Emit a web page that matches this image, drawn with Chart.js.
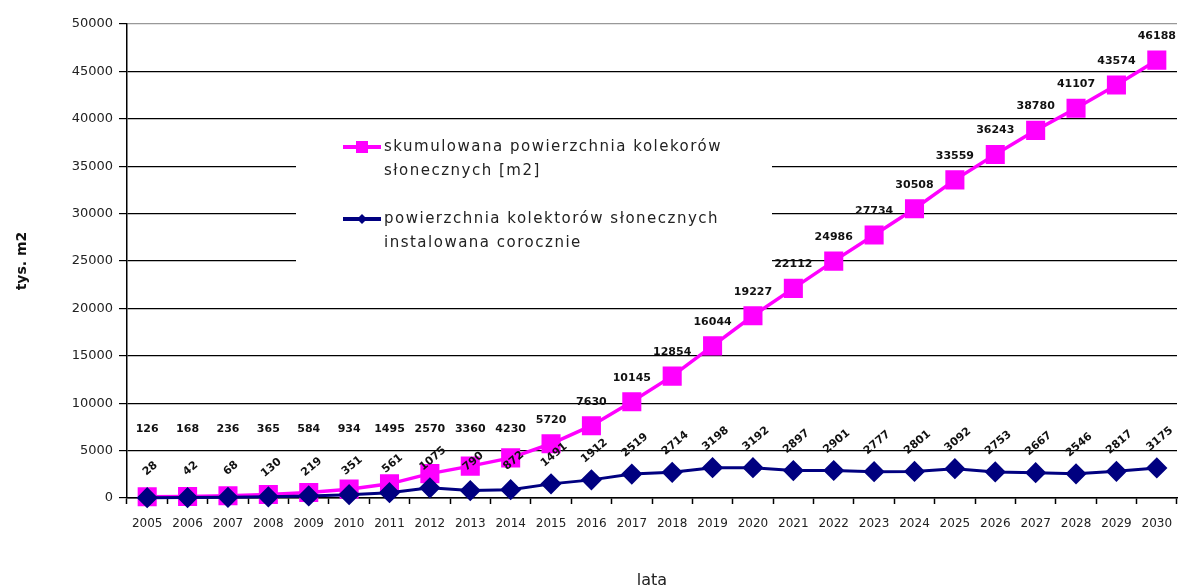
<!DOCTYPE html>
<html>
<head>
<meta charset="utf-8">
<script src="https://cdn.jsdelivr.net/npm/chart.js@4"></script>
<style>
  html, body { margin: 0; padding: 0; background: #fff; overflow: hidden; }
</style>
</head>
<body>
<canvas id="chart" width="1181" height="585"></canvas>
<script>
var years = ["2005", "2006", "2007", "2008", "2009", "2010", "2011", "2012", "2013",
  "2014", "2015", "2016", "2017", "2018", "2019", "2020", "2021", "2022", "2023",
  "2024", "2025", "2026", "2027", "2028", "2029", "2030"];

var cumulative = [126, 168, 236, 365, 584, 934, 1495, 2570, 3360, 4230, 5720, 7630,
  10145, 12854, 16044, 19227, 22112, 24986, 27734, 30508, 33559, 36243, 38780,
  41107, 43574, 46188];

var annual = [28, 42, 68, 130, 219, 351, 561, 1075, 790, 872, 1491, 1912, 2519, 2714,
  3198, 3192, 2897, 2901, 2777, 2801, 3092, 2753, 2667, 2546, 2817, 3175];

var legendLabels = [
  ["skumulowana powierzchnia kolekorów", "słonecznych [m2]"],
  ["powierzchnia kolektorów słonecznych", "instalowana corocznie"]
];

var yMax = 50000;
var yStep = 5000;

var pink = "#ff00ff";
var navy = "#000080";
var font = '"DejaVu Sans", sans-serif';

var valueLabels = {
  id: "valueLabels",
  afterDatasetsDraw: function (chart) {
    var ctx = chart.ctx;
    var yScale = chart.scales.y;
    var cumMeta = chart.getDatasetMeta(0);
    var annMeta = chart.getDatasetMeta(1);
    var floor = yScale.getPixelForValue(7300);

    ctx.save();
    ctx.font = "bold 11px " + font;
    ctx.fillStyle = "#111";
    ctx.textAlign = "center";
    ctx.textBaseline = "middle";

    cumMeta.data.forEach(function (pt, i) {
      var y = Math.min(pt.y - 24, floor);
      ctx.fillText(String(cumulative[i]), pt.x, y);
    });

    annMeta.data.forEach(function (pt, i) {
      ctx.save();
      ctx.translate(pt.x + 3, pt.y - 29);
      ctx.rotate(-40 * Math.PI / 180);
      ctx.fillText(String(annual[i]), 0, 0);
      ctx.restore();
    });
    ctx.restore();
  }
};

var legendBox = {
  id: "legendBox",
  beforeDatasetsDraw: function (chart) {
    var ctx = chart.ctx;
    var colors = [pink, navy];
    var styles = ["rect", "rectRot"];
    ctx.save();
    ctx.fillStyle = "#fff";
    ctx.fillRect(296, 126, 476, 160);

    ctx.font = "15px " + font;
    ctx.letterSpacing = "1.5px";
    ctx.textAlign = "left";
    ctx.textBaseline = "middle";

    legendLabels.forEach(function (lines, i) {
      var y = 147 + i * 72;
      ctx.strokeStyle = colors[i];
      ctx.lineWidth = 4;
      ctx.beginPath();
      ctx.moveTo(343, y);
      ctx.lineTo(381, y);
      ctx.stroke();
      ctx.fillStyle = colors[i];
      if (styles[i] === "rect") {
        ctx.fillRect(356, y - 6, 12, 12);
      } else {
        ctx.beginPath();
        ctx.moveTo(362, y - 5);
        ctx.lineTo(367, y);
        ctx.lineTo(362, y + 5);
        ctx.lineTo(357, y);
        ctx.closePath();
        ctx.fill();
      }
      ctx.fillStyle = "#222";
      lines.forEach(function (txt, j) {
        ctx.fillText(txt, 384, y + j * 24);
      });
    });
    ctx.restore();
  }
};

var ctx = document.getElementById("chart").getContext("2d");

new Chart(ctx, {
  type: "line",
  data: {
    labels: years,
    datasets: [
      {
        label: legendLabels[0].join(" "),
        data: cumulative,
        borderColor: pink,
        backgroundColor: pink,
        borderWidth: 3.5,
        pointStyle: "rect",
        pointRadius: 11,
        pointHoverRadius: 11,
        clip: false,
        order: 1
      },
      {
        label: legendLabels[1].join(" "),
        data: annual,
        borderColor: navy,
        backgroundColor: navy,
        borderWidth: 3,
        pointStyle: "rectRot",
        pointRadius: 8.5,
        pointHoverRadius: 8.5,
        clip: false,
        order: 0
      }
    ]
  },
  plugins: [legendBox, valueLabels],
  options: {
    responsive: false,
    animation: false,
    layout: { autoPadding: false, padding: { top: 24, right: 4, left: 0, bottom: 0 } },
    plugins: {
      legend: { display: false },
      tooltip: { enabled: false }
    },
    scales: {
      x: {
        offset: true,
        afterFit: function (scale) {
          scale.height = 87;
          scale.paddingLeft = 0;
          scale.paddingRight = 0;
        },
        grid: {
          offset: true,
          drawOnChartArea: false,
          tickLength: 6,
          tickColor: "#000",
          tickWidth: 1.5
        },
        border: { color: "#000", width: 1.5 },
        ticks: {
          padding: 13,
          maxRotation: 0,
          autoSkip: false,
          color: "#222",
          font: { family: font, size: 12 }
        },
        title: {
          display: true,
          text: "lata",
          color: "#222",
          padding: { top: 0, bottom: -5 },
          font: { family: font, size: 16 }
        }
      },
      y: {
        min: 0,
        max: yMax,
        afterFit: function (scale) { scale.width = 127; },
        grid: {
          color: function (c) { return c.tick && c.tick.value === yMax ? "#999" : "#000"; },
          lineWidth: 1.2,
          tickLength: 8,
          tickColor: "#000"
        },
        border: { color: "#000", width: 1.5 },
        ticks: {
          stepSize: yStep,
          padding: 6,
          color: "#222",
          font: { family: font, size: 13 },
          callback: function (v) { return String(v); }
        },
        title: {
          display: true,
          text: "tys. m2",
          color: "#111",
          padding: { top: 14, bottom: 0 },
          font: { family: font, size: 14, weight: "bold" }
        }
      }
    }
  }
});
</script>
</body>
</html>
